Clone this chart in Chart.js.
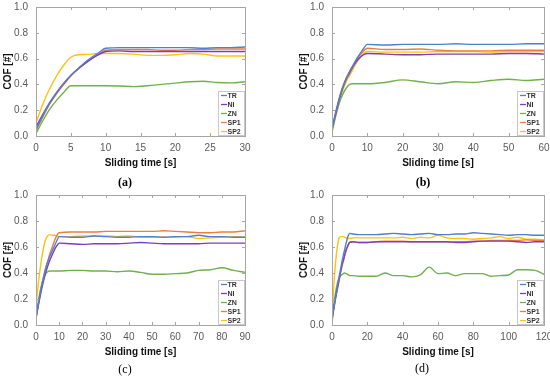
<!DOCTYPE html>
<html>
<head>
<meta charset="utf-8">
<script src="https://cdn.jsdelivr.net/npm/chart.js@4/dist/chart.umd.min.js"></script>
<style>
  body { margin: 0; background: #fff; }
  #wrap { position: relative; width: 550px; height: 377px; }
  canvas { position: absolute; }
  .lbl { position: absolute; width: 40px; text-align: center; font: 12px "Liberation Serif", "Times New Roman", serif; line-height: 12px; color: #000; }
</style>
</head>
<body>
<div id="wrap">
  <canvas id="ca" width="275" height="188" style="left:0;top:0"></canvas>
  <canvas id="cb" width="275" height="188" style="left:275px;top:0"></canvas>
  <canvas id="cc" width="275" height="189" style="left:0;top:188px"></canvas>
  <canvas id="cd" width="275" height="189" style="left:275px;top:188px"></canvas>
  <div class="lbl" style="left:105px;top:176px;font-weight:bold">(a)</div>
  <div class="lbl" style="left:403px;top:176px;font-weight:bold">(b)</div>
  <div class="lbl" style="left:105px;top:363px">(c)</div>
  <div class="lbl" style="left:402px;top:362px">(d)</div>
</div>
<script>
const seriesNames = ["TR", "NI", "ZN", "SP1", "SP2"]
const seriesColors = ["#4f7fd0", "#7a3fc0", "#72b04a", "#ef7d3a", "#ffc20e"]
const yTicks = [0, 0.2, 0.4, 0.6, 0.8, 1.0]

// (a) 0-30 s
const timeA = [0,1,2,3,4,5,6,7,8,9,10,12,14,16,18,20,22,24,26,28,30]
const trA  = [0.05,0.16,0.26,0.34,0.41,0.47,0.52,0.57,0.61,0.645,0.68,0.685,0.685,0.685,0.685,0.685,0.685,0.68,0.685,0.685,0.69]
const niA  = [0.07,0.17,0.26,0.34,0.41,0.47,0.52,0.56,0.60,0.63,0.655,0.66,0.655,0.655,0.655,0.655,0.655,0.655,0.655,0.655,0.655]
const znA  = [0.02,0.12,0.21,0.28,0.34,0.39,0.39,0.39,0.39,0.39,0.39,0.388,0.383,0.39,0.40,0.41,0.42,0.425,0.415,0.412,0.42]
const sp1A = [0.04,0.15,0.25,0.33,0.40,0.465,0.515,0.56,0.60,0.635,0.665,0.67,0.67,0.67,0.665,0.665,0.67,0.67,0.675,0.675,0.675]
const sp2A = [0.10,0.25,0.37,0.47,0.55,0.61,0.63,0.632,0.635,0.64,0.64,0.64,0.635,0.625,0.625,0.63,0.64,0.635,0.62,0.62,0.62]

// (b) 0-60 s
const timeB = [0,1,2,3,4,5,6,7,8,9,10,15,20,25,30,35,40,45,50,55,60]
const trB  = [0.05,0.17,0.28,0.37,0.44,0.50,0.55,0.60,0.64,0.68,0.71,0.705,0.71,0.71,0.71,0.715,0.71,0.71,0.71,0.715,0.715]
const niB  = [0.06,0.17,0.28,0.37,0.44,0.49,0.54,0.58,0.61,0.63,0.64,0.635,0.63,0.63,0.635,0.635,0.635,0.635,0.64,0.64,0.635]
const znB  = [0.03,0.15,0.25,0.32,0.37,0.40,0.405,0.405,0.405,0.405,0.405,0.415,0.435,0.42,0.405,0.42,0.415,0.43,0.44,0.43,0.44]
const sp1B = [0.05,0.18,0.29,0.38,0.45,0.50,0.55,0.59,0.63,0.66,0.68,0.67,0.67,0.675,0.665,0.66,0.66,0.66,0.665,0.665,0.665]
const sp2B = [0.04,0.15,0.26,0.35,0.42,0.47,0.52,0.57,0.61,0.64,0.655,0.65,0.65,0.65,0.655,0.655,0.655,0.65,0.655,0.655,0.655]

// (c) 0-90 s
const timeC = [0,1,2,3,4,5,6,7,8,9,10,15,20,25,30,35,40,45,50,55,60,65,70,75,80,85,90]
const trC  = [0.05,0.16,0.26,0.34,0.42,0.48,0.53,0.57,0.61,0.65,0.68,0.675,0.675,0.685,0.68,0.675,0.675,0.68,0.68,0.675,0.68,0.68,0.69,0.68,0.68,0.675,0.675]
const niC  = [0.06,0.15,0.24,0.32,0.39,0.45,0.50,0.54,0.58,0.61,0.63,0.625,0.62,0.625,0.625,0.625,0.63,0.635,0.63,0.625,0.625,0.625,0.625,0.63,0.63,0.63,0.63]
const znC  = [0.05,0.18,0.28,0.35,0.39,0.41,0.415,0.415,0.415,0.415,0.415,0.42,0.42,0.415,0.415,0.41,0.415,0.405,0.39,0.39,0.395,0.40,0.42,0.425,0.44,0.42,0.405]
const sp1C = [0.05,0.16,0.26,0.35,0.43,0.49,0.55,0.60,0.65,0.69,0.71,0.715,0.715,0.715,0.72,0.72,0.72,0.72,0.72,0.725,0.72,0.715,0.71,0.71,0.715,0.715,0.725]
const sp2C = [0.15,0.32,0.46,0.57,0.65,0.685,0.695,0.69,0.69,0.685,0.68,0.68,0.685,0.685,0.685,0.68,0.685,0.675,0.675,0.675,0.675,0.68,0.665,0.67,0.675,0.68,0.675]

// (d) 0-120 s
const timeD = [0,1,2,3,4,5,6,7,8,9,10,12,15,20,25,30,35,40,45,50,55,60,65,70,75,80,85,90,95,100,105,110,115,120]
const trD  = [0.05,0.13,0.21,0.29,0.37,0.44,0.51,0.57,0.63,0.68,0.705,0.70,0.695,0.695,0.695,0.70,0.705,0.70,0.695,0.70,0.705,0.695,0.695,0.70,0.70,0.71,0.705,0.70,0.695,0.69,0.695,0.695,0.69,0.69]
const niD  = [0.05,0.13,0.21,0.28,0.35,0.42,0.48,0.53,0.58,0.61,0.635,0.64,0.635,0.635,0.64,0.64,0.64,0.64,0.64,0.64,0.64,0.64,0.64,0.635,0.635,0.64,0.645,0.645,0.645,0.645,0.64,0.635,0.64,0.64]
const znD  = [0.00,0.15,0.25,0.32,0.36,0.38,0.39,0.40,0.395,0.39,0.38,0.38,0.375,0.375,0.375,0.40,0.38,0.38,0.37,0.385,0.445,0.395,0.40,0.38,0.395,0.395,0.395,0.375,0.38,0.385,0.425,0.425,0.42,0.39]
const sp1D = [0.04,0.12,0.20,0.27,0.34,0.41,0.47,0.52,0.57,0.61,0.635,0.64,0.635,0.635,0.64,0.645,0.645,0.645,0.64,0.64,0.64,0.64,0.64,0.64,0.64,0.645,0.645,0.65,0.65,0.65,0.65,0.655,0.65,0.65]
const sp2D = [0.05,0.30,0.48,0.60,0.67,0.68,0.68,0.675,0.67,0.665,0.665,0.67,0.67,0.67,0.67,0.67,0.67,0.675,0.665,0.675,0.67,0.69,0.67,0.665,0.665,0.66,0.665,0.67,0.68,0.665,0.675,0.66,0.66,0.655]

Chart.defaults.font.family = '"Liberation Sans", Arial, sans-serif'

// frame, inward tick marks and the small legend box inside the plot
const framePlugin = {
  id: "frame",
  afterDatasetsDraw(chart) {
    const {ctx, chartArea: a, scales} = chart
    ctx.save()
    ctx.strokeStyle = "#a6a6a6"
    ctx.lineWidth = 1
    ctx.strokeRect(a.left + 0.5, a.top + 0.5, a.right - a.left, a.bottom - a.top)
    ctx.beginPath()
    scales.x.ticks.forEach(t => {
      const px = Math.round(scales.x.getPixelForValue(t.value)) + 0.5
      ctx.moveTo(px, a.bottom); ctx.lineTo(px, a.bottom - 3)
      ctx.moveTo(px, a.top); ctx.lineTo(px, a.top + 3)
    })
    scales.y.ticks.forEach(t => {
      const py = Math.round(scales.y.getPixelForValue(t.value)) + 0.5
      ctx.moveTo(a.left, py); ctx.lineTo(a.left + 3, py)
      ctx.moveTo(a.right, py); ctx.lineTo(a.right - 3, py)
    })
    ctx.stroke()

    // legend
    const w = 27, h = 44
    const bx = a.right - w, by = a.bottom - h - 1
    ctx.fillStyle = "#fff"
    ctx.fillRect(bx, by, w, h)
    ctx.strokeStyle = "#c8c8c8"
    ctx.strokeRect(bx + 0.5, by + 0.5, w - 1, h)
    ctx.font = "bold 7px 'Liberation Sans', Arial, sans-serif"
    ctx.textBaseline = "middle"
    chart.data.datasets.forEach((ds, i) => {
      const y = by + 4.5 + i * 9
      ctx.strokeStyle = ds.borderColor
      ctx.lineWidth = 1.3
      ctx.beginPath(); ctx.moveTo(bx + 3, y); ctx.lineTo(bx + 9, y); ctx.stroke()
      ctx.fillStyle = "#333"
      ctx.fillText(ds.label, bx + 9.5, y + 0.5)
    })
    ctx.restore()
  }
}

function makePanel(id, times, series, xMax, xStep, padLeft, padRight) {
  const datasets = series.map((vals, i) => ({
    label: seriesNames[i],
    data: times.map((t, k) => ({x: t, y: vals[k]})),
    borderColor: seriesColors[i],
    borderWidth: 1.4,
    pointRadius: 0,
    cubicInterpolationMode: "monotone",
    fill: false
  }))
  new Chart(document.getElementById(id), {
    type: "line",
    data: {datasets},
    plugins: [framePlugin],
    options: {
      responsive: false,
      animation: false,
      layout: {padding: {left: padLeft, right: padRight, top: 7, bottom: 15}},
      plugins: {legend: {display: false}, tooltip: {enabled: false}},
      scales: {
        x: {
          type: "linear", min: 0, max: xMax,
          grid: {display: false, drawTicks: false},
          border: {display: false},
          ticks: {stepSize: xStep, color: "#595959", font: {size: 10}, padding: 6, maxRotation: 0},
          title: {display: true, text: "Sliding time [s]", color: "#111", font: {size: 10, weight: "bold"}, padding: {top: 4, bottom: 4}},
          afterFit: s => { s.height = 37; s.paddingLeft = 0; s.paddingRight = 0 }
        },
        y: {
          min: 0, max: 1,
          afterBuildTicks: s => { s.ticks = yTicks.map(v => ({value: v})) },
          grid: {display: false, drawTicks: false},
          border: {display: false},
          ticks: {color: "#595959", font: {size: 10}, padding: 8, callback: v => v.toFixed(1)},
          title: {display: true, text: "COF [#]", color: "#111", font: {size: 10, weight: "bold"}, padding: {top: 2.5, bottom: 2}},
          afterFit: s => { s.width = 36; s.paddingTop = 0; s.paddingBottom = 0 }
        }
      }
    }
  })
}

makePanel("ca", timeA, [trA, niA, znA, sp1A, sp2A], 30, 5, 0, 30)
makePanel("cb", timeB, [trB, niB, znB, sp1B, sp2B], 60, 10, 21, 6)
makePanel("cc", timeC, [trC, niC, znC, sp1C, sp2C], 90, 10, 0, 30)
makePanel("cd", timeD, [trD, niD, znD, sp1D, sp2D], 120, 20, 21, 6)
</script>
</body>
</html>
